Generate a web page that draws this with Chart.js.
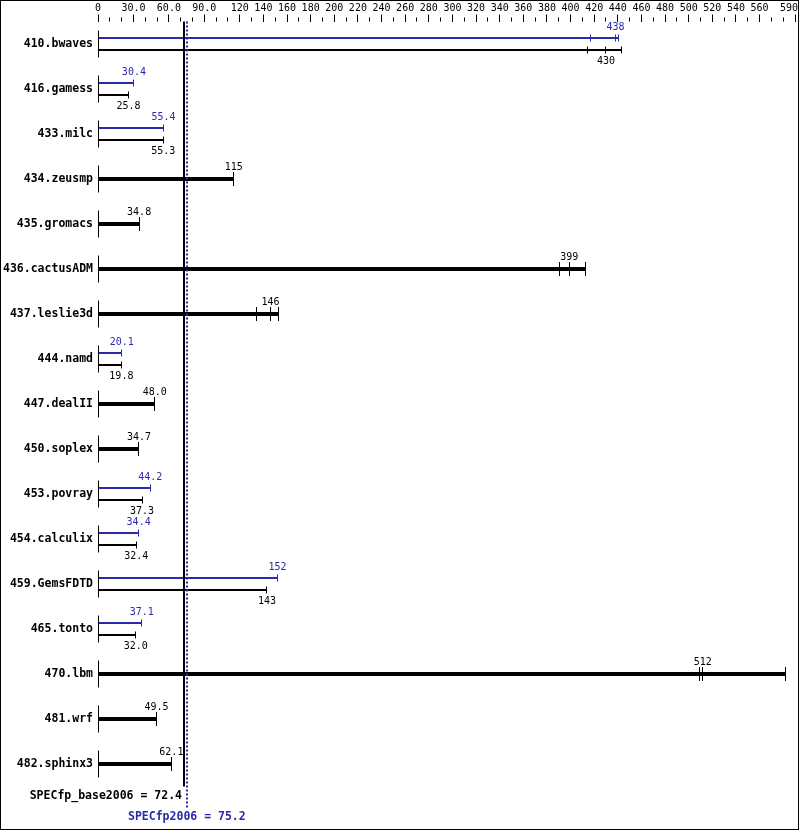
<!DOCTYPE html>
<html><head><meta charset="utf-8">
<script src="https://cdn.jsdelivr.net/npm/chart.js@4/dist/chart.umd.min.js"></script>
<style>html,body{margin:0;padding:0;background:#fff}canvas{display:block}</style>
</head><body>
<canvas id="c" width="799" height="831"></canvas>
<script>
// ---- data ----
const benchmarks = ['410.bwaves','416.gamess','433.milc','434.zeusmp','435.gromacs','436.cactusADM','437.leslie3d','444.namd','447.dealII','450.soplex','453.povray','454.calculix','459.GemsFDTD','465.tonto','470.lbm','481.wrf','482.sphinx3'];
// median ratios (base, peak). null peak = peak identical to base (single bar)
const baseScores = [430, 25.8, 55.3, 115, 34.8, 399, 146, 19.8, 48.0, 34.7, 37.3, 32.4, 143, 32.0, 512, 49.5, 62.1];
const peakScores = [438, 30.4, 55.4, null, null, null, null, 20.1, null, null, 44.2, 34.4, 152, 37.1, null, null, null];
// lowest / highest of the individual runs where they differ visibly from the median
const baseRunLow  = [414, null, null, null, null, 391, 134, null, null, null, null, null, null, null, 509, null, null];
const baseRunHigh = [443, null, null, null, null, 413, 153, null, null, null, null, null, null, null, 582, null, null];
const peakRunLow  = [417, null, null, null, null, null, null, null, null, null, null, null, null, null, null, null, null];
const peakRunHigh = [441, null, null, null, null, null, null, null, null, null, null, null, null, null, null, null, null];
// axis ticks
const majorTicks = [0, 30, 60, 90, 120, 140, 160, 180, 200, 220, 240, 260, 280, 300, 320, 340, 360, 380, 400, 420, 440, 460, 480, 500, 520, 540, 560, 590];
const majorTickLabels = ['0', '30.0', '60.0', '90.0', '120', '140', '160', '180', '200', '220', '240', '260', '280', '300', '320', '340', '360', '380', '400', '420', '440', '460', '480', '500', '520', '540', '560', '590  '];
const axisMax = 590;
const specBase = 72.4;
const specPeak = 75.2;
const specBaseLabel = 'SPECfp_base2006 = 72.4';
const specPeakLabel = 'SPECfp2006 = 75.2';

const BLUE = '#2a2aaa';
const BLACK = '#000000';
const MONO = '"DejaVu Sans Mono", "Liberation Mono", monospace';

const fmt = v => v >= 100 ? String(Math.round(v)) : v.toFixed(1);
const hasPeak = i => peakScores[i] !== null;

const peakData = peakScores.map((p, i) => p === null ? null : Math.max(p, peakRunHigh[i] ?? p));
const baseData = baseScores.map((b, i) => hasPeak(i) ? Math.max(b, baseRunHigh[i] ?? b) : null);
const bothData = baseScores.map((b, i) => hasPeak(i) ? null : Math.max(b, baseRunHigh[i] ?? b));

function vline(ctx, x, y1, y2) {
  ctx.beginPath(); ctx.moveTo(x, y1); ctx.lineTo(x, y2); ctx.stroke();
}
const crisp = px => Math.round(px - 0.5) + 0.5;

const specPlugin = {
  id: 'spec',
  afterDatasetsDraw(chart) {
    const { ctx, chartArea, scales: { x, y } } = chart;
    ctx.save();
    ctx.lineWidth = 1;
    // minor axis ticks
    ctx.strokeStyle = BLACK;
    for (let v = 0; v <= axisMax; v += 10) {
      if (majorTicks.includes(v)) continue;
      const px = crisp(x.getPixelForValue(v));
      vline(ctx, px, chartArea.top - 4, chartArea.top);
    }
    const x0 = crisp(x.getPixelForValue(0));
    const metas = [chart.getDatasetMeta(0), chart.getDatasetMeta(1), chart.getDatasetMeta(2)];
    ctx.font = '10px ' + MONO;
    ctx.textAlign = 'center';
    ctx.textBaseline = 'middle';
    benchmarks.forEach((b, i) => {
      const cy = y.getPixelForValue(i);
      ctx.strokeStyle = BLACK;
      vline(ctx, x0, cy - 13.5, cy + 13.5);
      const drawRuns = (el, med, lo, hi, color, half, labelDy) => {
        ctx.strokeStyle = color;
        const vals = [med];
        if (lo !== null) vals.push(lo);
        if (hi !== null) vals.push(hi);
        vals.forEach(v => {
          const px = crisp(x.getPixelForValue(v));
          vline(ctx, px, el.y - half, el.y + half);
        });
        ctx.fillStyle = color;
        ctx.fillText(fmt(med), x.getPixelForValue(med), el.y + labelDy);
      };
      if (hasPeak(i)) {
        drawRuns(metas[0].data[i], peakScores[i], peakRunLow[i], peakRunHigh[i], BLUE, 3.5, -10.5);
        drawRuns(metas[1].data[i], baseScores[i], baseRunLow[i], baseRunHigh[i], BLACK, 3.5, 11.5);
      } else {
        drawRuns(metas[2].data[i], baseScores[i], baseRunLow[i], baseRunHigh[i], BLACK, 7, -11.5);
      }
    });
    // reference lines
    const xb = x.getPixelForValue(specBase);
    const xp = x.getPixelForValue(specPeak);
    ctx.lineWidth = 2;
    ctx.strokeStyle = BLACK;
    vline(ctx, Math.round(xb), chartArea.top, chartArea.bottom);
    ctx.strokeStyle = BLUE;
    ctx.setLineDash([2, 2]);
    vline(ctx, Math.round(xp), chartArea.top, chartArea.bottom + 22);
    ctx.setLineDash([]);
    // summary texts
    ctx.font = 'bold 11.5px ' + MONO;
    ctx.fillStyle = BLACK;
    ctx.textAlign = 'right';
    ctx.fillText(specBaseLabel, Math.round(xb) - 2, chartArea.bottom + 10);
    ctx.fillStyle = BLUE;
    ctx.textAlign = 'center';
    ctx.fillText(specPeakLabel, xp, chartArea.bottom + 31);
    ctx.restore();
  },
  afterDraw(chart) {
    const ctx = chart.ctx;
    ctx.save();
    ctx.strokeStyle = BLACK;
    ctx.lineWidth = 1;
    ctx.strokeRect(0.5, 0.5, 798, 829);
    ctx.restore();
  }
};

new Chart(document.getElementById('c'), {
  type: 'bar',
  data: {
    labels: benchmarks,
    datasets: [
      { label: 'peak', data: peakData, backgroundColor: BLUE },
      { label: 'base', data: baseData, backgroundColor: BLACK },
      { label: 'base=peak', data: bothData, backgroundColor: BLACK }
    ]
  },
  options: {
    indexAxis: 'y',
    responsive: false,
    animation: false,
    devicePixelRatio: 1,
    skipNull: true,
    categoryPercentage: 24 / 45,
    barPercentage: 1 / 6,
    layout: { padding: { left: 0, top: 0, right: 4, bottom: 44.5 } },
    plugins: { legend: { display: false }, tooltip: { enabled: false } },
    scales: {
      x: {
        type: 'linear',
        position: 'top',
        min: 0,
        max: axisMax,
        afterBuildTicks: s => { s.ticks = majorTicks.map(v => ({ value: v })); },
        afterFit: s => { s.height = 21.5; s.paddingLeft = 0; s.paddingRight = 0; },
        border: { display: false },
        grid: { display: true, drawOnChartArea: false, drawTicks: true, tickLength: 7, color: BLACK, lineWidth: 1 },
        ticks: {
          autoSkip: false, maxRotation: 0, minRotation: 0, padding: 0, color: BLACK,
          font: { family: MONO, size: 10 },
          callback: (v, idx) => majorTickLabels[idx]
        }
      },
      y: {
        type: 'category',
        position: 'left',
        afterFit: s => { s.width = 98; s.paddingTop = 0; s.paddingBottom = 0; },
        border: { display: false },
        grid: { display: false, drawTicks: false },
        ticks: { padding: 5, color: BLACK, font: { family: MONO, size: 11.5, weight: 'bold' } }
      }
    }
  },
  plugins: [specPlugin]
});
</script>
</body></html>
